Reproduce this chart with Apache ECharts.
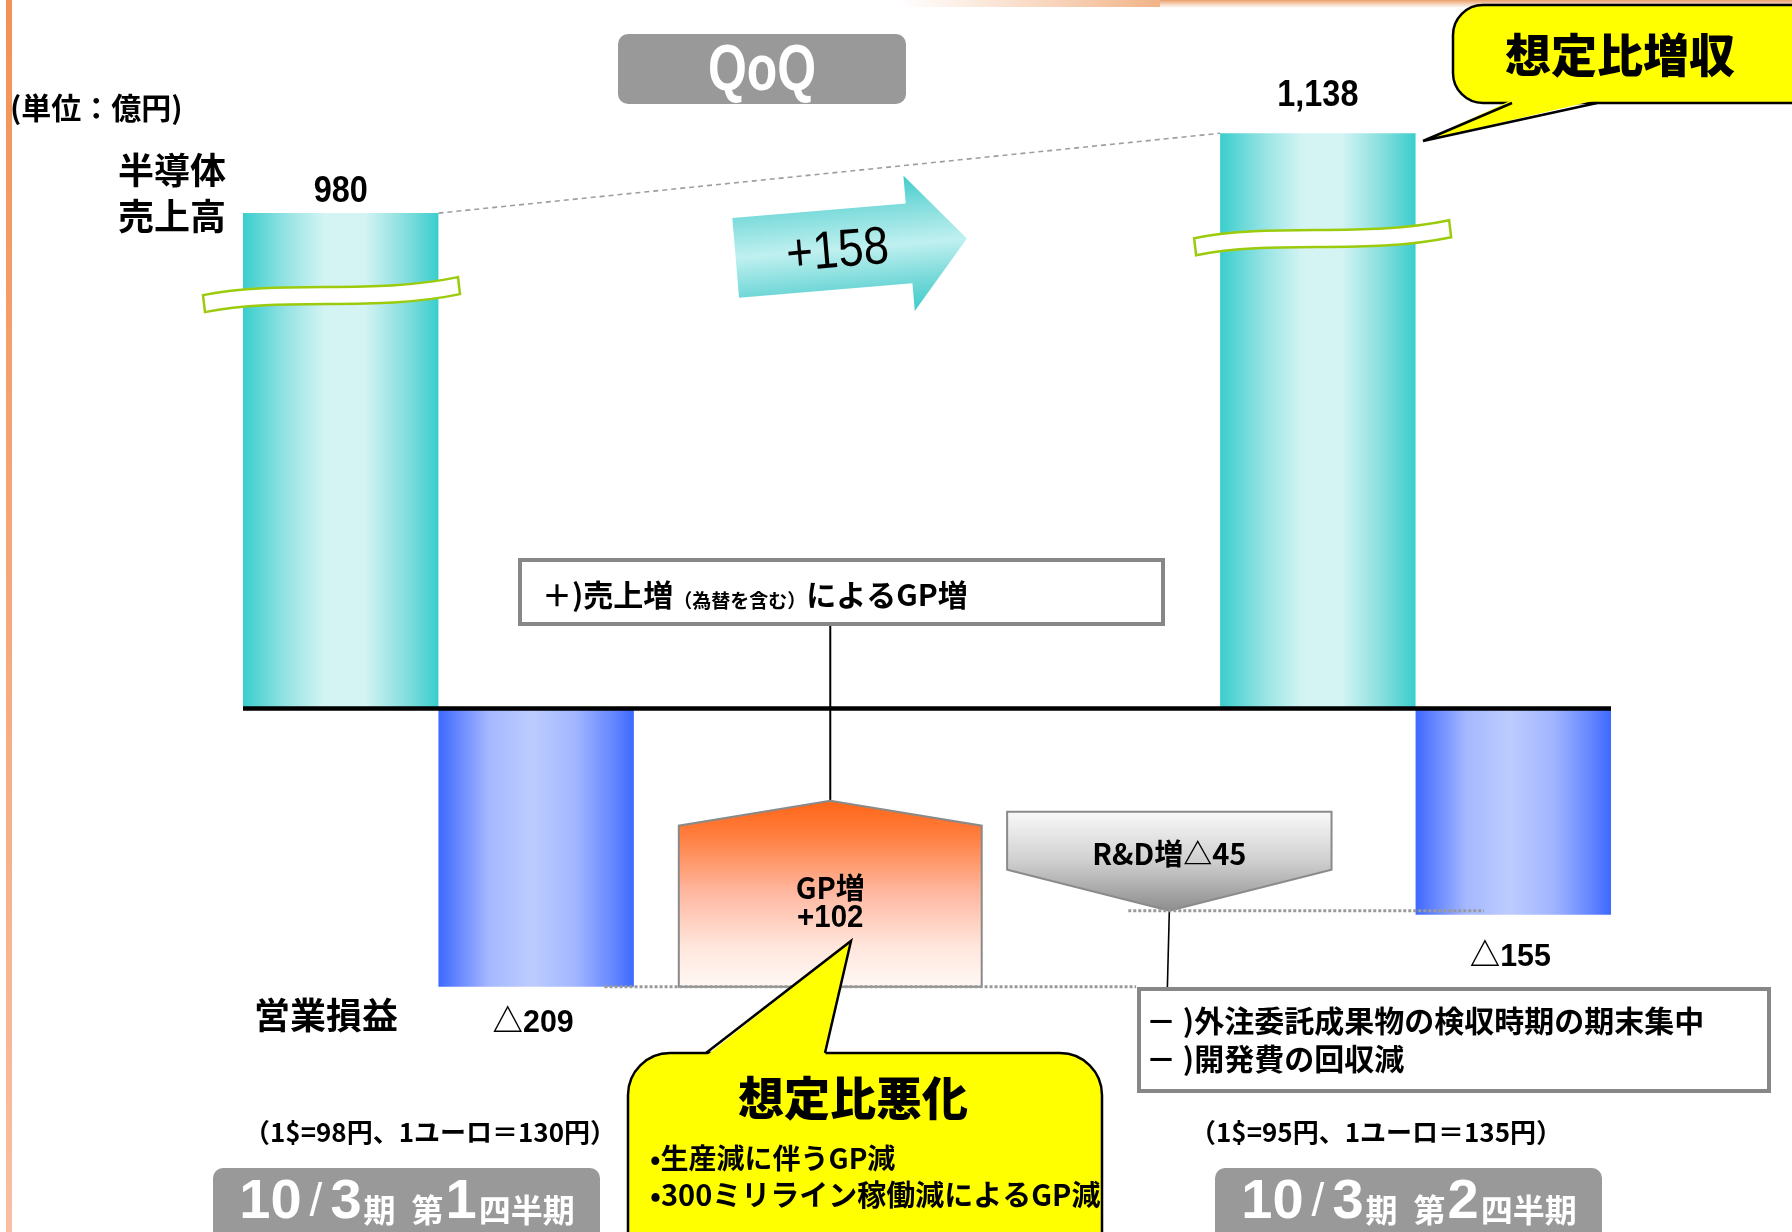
<!DOCTYPE html>
<html lang="ja">
<head>
<meta charset="utf-8">
<title>半導体 QoQ</title>
<script src="https://cdn.jsdelivr.net/npm/echarts@6.0.0/dist/echarts.min.js"></script>
<style>
html, body { margin: 0; padding: 0; background: #ffffff; }
#chart { width: 1792px; height: 1232px; }
</style>
</head>
<body>
<div id="chart"></div>
<script>
// ---------------- data (億円) ----------------
const periods = ['10/3期 第1四半期', '10/3期 第2四半期'];
const fxNotes = ['（1$=98円、1ユーロ＝130円）', '（1$=95円、1ユーロ＝135円）'];
const salesValues = [980, 1138];        // 半導体売上高
const operatingValues = [-209, -155];   // 営業損益
const gpChange = 102;                   // GP増
const rdChange = -45;                   // R&D増
const salesNote = '＋)売上増';
const salesNoteSub = '（為替を含む）';
const salesNoteTail = 'によるGP増';
const rdNotes = ['－ )外注委託成果物の検収時期の期末集中', '－ )開発費の回収減'];
const upCallout = '想定比増収';
const downCallout = '想定比悪化';
const downBullets = ['•生産減に伴うGP減', '•300ミリライン稼働減によるGP減'];

// ---------------- layout & style ----------------
const JP = "'Noto Sans CJK JP', 'Noto Sans CJK SC', sans-serif";
const NUM = "'Liberation Sans', 'Noto Sans CJK JP', sans-serif";
const G = echarts.graphic;

// horizontal slots on a 0..7 value axis
const slot = {
  sales: [0, 5],
  operating: [1, 6],
  gp: [2.23, 3.78],
  rd: [3.91, 5.57],
  lossGuide: [1.85, 4.57],
  rdGuide: [4.53, 6.35],
  arrowAt: 3
};
const BREAK = { dx: [-40, -26], dy: [64, 87] };
const LABEL = { sales: [21, 37], loss: [36, 42] };
const SHAPE = { gpBody: 161, gpRoof: 25, rdHead: 41, rdTotal: 99 };
const ARROW = { dx: 22, dy: 75, rotation: 0.084 };
const BOX1 = { x: 520, y: 560, w: 643, h: 64 };
const BOX2 = { x: 1139, y: 989, w: 630, h: 102 };

const salesFill = new G.LinearGradient(0, 0, 1, 0, [
  { offset: 0, color: '#3ACDCD' }, { offset: 0.22, color: '#95E3E3' },
  { offset: 0.42, color: '#D4F4F4' }, { offset: 0.62, color: '#D4F4F4' },
  { offset: 0.82, color: '#8ADFDF' }, { offset: 1, color: '#3ACDCD' }
]);
const lossFill = new G.LinearGradient(0, 0, 1, 0, [
  { offset: 0, color: '#3E68FF' }, { offset: 0.26, color: '#A6B8FF' },
  { offset: 0.48, color: '#BDCCFF' }, { offset: 0.7, color: '#A2B6FF' },
  { offset: 0.89, color: '#6688FF' }, { offset: 1, color: '#3E68FF' }
]);
const gpFill = new G.LinearGradient(0, 0, 0, 1, [
  { offset: 0, color: '#FF6516' }, { offset: 0.18, color: '#FF7C3C' },
  { offset: 0.5, color: '#FFB9A2' }, { offset: 0.78, color: '#FFE6DC' },
  { offset: 1, color: '#FFF8F4' }
]);
const rdFill = new G.LinearGradient(0, 0, 0, 1, [
  { offset: 0, color: '#FAFAFA' }, { offset: 0.5, color: '#CFCFCF' },
  { offset: 1, color: '#8C8C8C' }
]);
const arrowFill = new G.LinearGradient(0, 0, 0, 1, [
  { offset: 0, color: '#3FCBCB' }, { offset: 0.22, color: '#80DCDC' },
  { offset: 0.5, color: '#C0F0F0' }, { offset: 0.78, color: '#74D8D8' },
  { offset: 1, color: '#3FCBCB' }
]);

const fmtSales = v => v.toLocaleString('en-US');
const fmtLoss = v => (v < 0 ? '△' : '') + Math.abs(v);

// wavy white ribbon marking the broken axis on a sales bar
function breakPath(x0, y0) {
  return `M${x0},${y0 + 18} C${x0 + 80},${y0 + 2} ${x0 + 170},${y0 + 18} ${x0 + 255},${y0} ` +
         `L${x0 + 257},${y0 + 17} C${x0 + 172},${y0 + 35} ${x0 + 82},${y0 + 19} ${x0 + 2},${y0 + 35} Z`;
}

function renderSales(params, api) {
  const i = params.dataIndex;
  const x = api.value(0), v = api.value(1);
  const p0 = api.coord([x, 0]), p1 = api.coord([x + 1, v]);
  const L = p0[0], R = p1[0], T = p1[1], B = p0[1];
  return {
    type: 'group',
    children: [
      { type: 'rect', shape: { x: L, y: T, width: R - L, height: B - T }, style: { fill: salesFill } },
      { type: 'path', shape: { pathData: breakPath(L + BREAK.dx[i], T + BREAK.dy[i]) },
        style: { fill: '#ffffff', stroke: '#9BCB0C', lineWidth: 2.5 } },
      { type: 'text', x: (L + R) / 2, y: T - LABEL.sales[i], scaleX: 0.9,
        style: { text: fmtSales(v), font: 'bold 36px ' + NUM, fill: '#000', align: 'center', verticalAlign: 'middle' } }
    ]
  };
}

function renderLoss(params, api) {
  const i = params.dataIndex;
  const x = api.value(0), v = api.value(1);
  const p0 = api.coord([x, 0]), p1 = api.coord([x + 1, v]);
  const L = p0[0], R = p1[0], T = p0[1], B = p1[1];
  return {
    type: 'group',
    children: [
      { type: 'rect', shape: { x: L, y: T, width: R - L, height: B - T }, style: { fill: lossFill } },
      { type: 'text', x: (L + R) / 2 - 3, y: B + LABEL.loss[i], scaleX: 0.95,
        style: { text: fmtLoss(v), font: 'bold 32px ' + NUM, fill: '#000', align: 'center', verticalAlign: 'middle' } }
    ]
  };
}

function renderGp(params, api) {
  const base = api.value(1), change = api.value(2);
  const yBase = api.coord([0, base])[1];
  const xL = api.coord([slot.gp[0], 0])[0], xR = api.coord([slot.gp[1], 0])[0];
  const xM = (xL + xR) / 2;
  const yS = yBase - SHAPE.gpBody, yP = yS - SHAPE.gpRoof;
  return {
    type: 'group',
    children: [
      { type: 'line', shape: { x1: xM, y1: BOX1.y + BOX1.h, x2: xM, y2: yP }, style: { stroke: '#000', lineWidth: 2 } },
      { type: 'polygon', shape: { points: [[xL, yBase], [xL, yS], [xM, yP], [xR, yS], [xR, yBase]] },
        style: { fill: gpFill, stroke: '#8A8A8A', lineWidth: 2 } },
      { type: 'text', x: xM, y: yBase - 99,
        style: { text: 'GP増', font: 'bold 29px ' + JP, fill: '#000', align: 'center', verticalAlign: 'middle' } },
      { type: 'text', x: xM, y: yBase - 68, scaleX: 0.95,
        style: { text: '+' + change, font: 'bold 31px ' + NUM, fill: '#000', align: 'center', verticalAlign: 'middle' } }
    ]
  };
}

function renderRd(params, api) {
  const start = api.value(1), change = api.value(2);
  const yTip = api.coord([0, start + change])[1];
  const xL = api.coord([slot.rd[0], 0])[0], xR = api.coord([slot.rd[1], 0])[0];
  const xM = (xL + xR) / 2;
  const yS = yTip - SHAPE.rdHead, yT = yTip - SHAPE.rdTotal;
  return {
    type: 'group',
    children: [
      { type: 'polygon', shape: { points: [[xL, yT], [xR, yT], [xR, yS], [xM, yTip], [xL, yS]] },
        style: { fill: rdFill, stroke: '#8A8A8A', lineWidth: 2 } },
      { type: 'text', x: xM, y: yT + 42,
        style: { text: 'R&D増' + fmtLoss(change), font: 'bold 29px ' + JP, fill: '#000', align: 'center', verticalAlign: 'middle' } },
      { type: 'line', shape: { x1: xM, y1: yTip, x2: xM - 2, y2: BOX2.y }, style: { stroke: '#000', lineWidth: 1.6 } }
    ]
  };
}

// dotted level guides and the zero line
function renderGuides(params, api) {
  const lossLevel = operatingValues[0];
  const endLevel = operatingValues[0] + gpChange + rdChange;
  const a0 = api.coord([slot.lossGuide[0], lossLevel]), a1 = api.coord([slot.lossGuide[1], lossLevel]);
  const b0 = api.coord([slot.rdGuide[0], endLevel]), b1 = api.coord([slot.rdGuide[1], endLevel]);
  const z0 = api.coord([0, 0]), z1 = api.coord([7, 0]);
  const dotted = { stroke: '#9A9A9A', lineWidth: 3, lineDash: [3, 2] };
  return {
    type: 'group',
    children: [
      { type: 'line', shape: { x1: a0[0], y1: a0[1], x2: a1[0], y2: a1[1] }, style: dotted },
      { type: 'line', shape: { x1: b0[0], y1: b0[1], x2: b1[0], y2: b1[1] }, style: dotted },
      { type: 'line', shape: { x1: z0[0], y1: z0[1], x2: z1[0], y2: z1[1] }, style: { stroke: '#000', lineWidth: 4.5 } }
    ]
  };
}

// dashed link between the two sales tops and the change arrow
function renderSalesChange(params, api) {
  const change = api.value(1);
  const a = api.coord([slot.sales[0] + 1, salesValues[0]]);
  const b = api.coord([slot.sales[1], salesValues[1]]);
  const mid = api.coord([slot.arrowAt, (salesValues[0] + salesValues[1]) / 2]);
  return {
    type: 'group',
    children: [
      { type: 'line', shape: { x1: a[0], y1: a[1], x2: b[0], y2: b[1] },
        style: { stroke: '#9E9E9E', lineWidth: 1.6, lineDash: [5, 4] } },
      { type: 'group', x: mid[0] + ARROW.dx, y: mid[1] + ARROW.dy, rotation: ARROW.rotation,
        children: [
          { type: 'polygon',
            shape: { points: [[-116, -40], [58, -40], [58, -68], [116, 0], [58, 68], [58, 40], [-116, 40]] },
            style: { fill: arrowFill } },
          { type: 'text', x: -14, y: 3, scaleX: 0.86,
            style: { text: (change > 0 ? '+' : '') + change, font: '53px ' + NUM, fill: '#000', align: 'center', verticalAlign: 'middle' } }
        ] }
    ]
  };
}

// callout bubbles (body + tail)
function callout(body, tail, r) {
  const fillTail = tail.map((p, k) => (k === 1 ? p : [p[0], p[1] + (tail[1][1] < p[1] ? 3 : -3)]));
  return [
    { type: 'rect', z: 30, shape: { x: body.x, y: body.y, width: body.w, height: body.h, r: r },
      style: { fill: '#FFFF00', stroke: '#000', lineWidth: 2.5 } },
    { type: 'polygon', z: 31, shape: { points: fillTail }, style: { fill: '#FFFF00' } },
    { type: 'polyline', z: 31, shape: { points: tail }, style: { stroke: '#000', lineWidth: 2.5, fill: null } }
  ];
}

// period tag: large digits with smaller kanji, laid out piece by piece
const measureCtx = document.createElement('canvas').getContext('2d');
function textWidth(text, font) { measureCtx.font = font; return measureCtx.measureText(text).width; }
const PERIOD_FONT = {
  b: { font: 'bold 56px ' + NUM, dy: 0 },
  sl: { font: 'normal 46px ' + NUM, dy: 0 },
  s: { font: 'bold 32px ' + JP, dy: 7 }
};
function periodTag(label, cx, cy) {
  const m = label.match(/^(\d+)\/(\d+)(期)\s*(第)(\d+)(四半期)$/);
  const parts = [[m[1], 'b', 0], ['/', 'sl', 8], [m[2], 'b', 8], [m[3], 's', 2], [m[4], 's', 16], [m[5], 'b', 2], [m[6], 's', 2]];
  let total = 0;
  const widths = parts.map(p => { const w = textWidth(p[0], PERIOD_FONT[p[1]].font); total += w + p[2]; return w; });
  let x = cx - total / 2;
  return parts.map((p, k) => {
    x += p[2];
    const el = { type: 'text', z: 21, x: x, y: cy + PERIOD_FONT[p[1]].dy,
      style: { text: p[0], font: PERIOD_FONT[p[1]].font, fill: '#fff', align: 'left', verticalAlign: 'middle', textAlign: 'left', textVerticalAlign: 'middle' } };
    x += widths[k];
    return el;
  });
}

const txt = (x, y, text, font, extra) => ({
  type: 'text', z: 20, x: x, y: y,
  style: Object.assign({ text: text, font: font, fill: '#000', align: 'left', verticalAlign: 'middle',
    textAlign: 'left', textVerticalAlign: 'middle' }, extra || {})
});

const graphics = [
  // accent stripes
  { type: 'rect', z: 0, shape: { x: 6, y: 0, width: 6, height: 1232 },
    style: { fill: new G.LinearGradient(0, 0, 0, 1, [{ offset: 0, color: '#F39257' }, { offset: 1, color: '#F8BFA2' }]) } },
  { type: 'rect', z: 0, shape: { x: 900, y: 0, width: 260, height: 7 },
    style: { fill: new G.LinearGradient(0, 0, 1, 0, [{ offset: 0, color: 'rgba(240,170,120,0)' }, { offset: 1, color: 'rgba(238,160,105,0.8)' }]) } },
  { type: 'rect', z: 0, shape: { x: 1160, y: 0, width: 632, height: 8 },
    style: { fill: new G.LinearGradient(0, 0, 0, 1, [{ offset: 0, color: 'rgba(232,148,92,0.9)' }, { offset: 1, color: 'rgba(236,160,105,0)' }]) } },
  // headings
  txt(10, 108, '(単位：億円)', 'bold 30px ' + JP),
  txt(172, 170, '半導体', 'bold 36px ' + JP, { align: 'center', textAlign: 'center' }),
  txt(172, 216, '売上高', 'bold 36px ' + JP, { align: 'center', textAlign: 'center' }),
  txt(326, 1015, '営業損益', 'bold 36px ' + JP, { align: 'center', textAlign: 'center' }),
  // QoQ tag
  { type: 'rect', z: 20, shape: { x: 618, y: 34, width: 288, height: 70, r: 10 }, style: { fill: '#999999' } },
  { type: 'text', z: 21, x: 762, y: 72, scaleX: 0.78,
    style: { text: 'QoQ', font: 'bold 64px ' + NUM, fill: '#fff', align: 'center', verticalAlign: 'middle', textAlign: 'center', textVerticalAlign: 'middle' } },
  // note boxes
  { type: 'rect', z: 20, shape: { x: BOX1.x, y: BOX1.y, width: BOX1.w, height: BOX1.h },
    style: { fill: '#fff', stroke: '#878787', lineWidth: 4 } },
  { type: 'text', z: 21, x: 542, y: 593,
    style: { text: `{m|${salesNote}}{s|${salesNoteSub}}{m|${salesNoteTail}}`, verticalAlign: 'middle', textVerticalAlign: 'middle',
      rich: { m: { font: 'bold 30px ' + JP, fill: '#000', verticalAlign: 'bottom', lineHeight: 34 },
              s: { font: 'bold 19px ' + JP, fill: '#000', verticalAlign: 'bottom', lineHeight: 26 } } } },
  { type: 'rect', z: 20, shape: { x: BOX2.x, y: BOX2.y, width: BOX2.w, height: BOX2.h },
    style: { fill: '#fff', stroke: '#878787', lineWidth: 4 } },
  txt(1146, 1021, rdNotes[0], 'bold 30px ' + JP, { z: 21 }),
  txt(1146, 1059, rdNotes[1], 'bold 30px ' + JP, { z: 21 }),
  // exchange rates
  txt(430, 1132, fxNotes[0], 'bold 26px ' + JP, { align: 'center', textAlign: 'center' }),
  txt(1376, 1132, fxNotes[1], 'bold 26px ' + JP, { align: 'center', textAlign: 'center' }),
  // period tags
  { type: 'rect', z: 20, shape: { x: 213, y: 1168, width: 387, height: 80, r: 10 }, style: { fill: '#999999' } },
  { type: 'rect', z: 20, shape: { x: 1215, y: 1168, width: 387, height: 80, r: 10 }, style: { fill: '#999999' } },
  ...periodTag(periods[0], 407, 1203),
  ...periodTag(periods[1], 1409, 1203),
  // callouts
  ...callout({ x: 1453, y: 5, w: 380, h: 98 }, [[1512, 103], [1423, 141], [1597, 103]], 30),
  { type: 'text', z: 32, x: 1620, y: 55,
    style: { text: upCallout, font: '900 46px ' + JP, fill: '#000', align: 'center', verticalAlign: 'middle', textAlign: 'center', textVerticalAlign: 'middle' } },
  ...callout({ x: 628, y: 1053, w: 474, h: 230 }, [[706, 1053], [851, 941], [825, 1053]], 42),
  { type: 'text', z: 32, x: 853, y: 1098,
    style: { text: downCallout, font: '900 46px ' + JP, fill: '#000', align: 'center', verticalAlign: 'middle', textAlign: 'center', textVerticalAlign: 'middle' } },
  { type: 'text', z: 32, x: 650, y: 1158,
    style: { text: downBullets[0], font: 'bold 28px ' + JP, fill: '#000', align: 'left', verticalAlign: 'middle', textAlign: 'left', textVerticalAlign: 'middle' } },
  { type: 'text', z: 32, x: 650, y: 1195,
    style: { text: downBullets[1], font: 'bold 29px ' + JP, fill: '#000', align: 'left', verticalAlign: 'middle', textAlign: 'left', textVerticalAlign: 'middle' } }
];

const chart = echarts.init(document.getElementById('chart'), null, { renderer: 'canvas' });
chart.setOption({
  animation: false,
  backgroundColor: '#ffffff',
  grid: [
    { left: 243, width: 1368, top: 101.9, height: 606.6, outerBoundsMode: 'none' },
    { left: 243, width: 1368, top: 708.5, height: 399.3, outerBoundsMode: 'none' }
  ],
  xAxis: [
    { gridIndex: 0, type: 'value', min: 0, max: 7, show: false },
    { gridIndex: 1, type: 'value', min: 0, max: 7, show: false }
  ],
  yAxis: [
    { gridIndex: 0, type: 'value', min: 0, max: 1200, show: false },
    { gridIndex: 1, type: 'value', min: -300, max: 0, show: false }
  ],
  series: [
    { name: '半導体売上高', type: 'custom', xAxisIndex: 0, yAxisIndex: 0, z: 3, silent: true,
      data: salesValues.map((v, i) => [slot.sales[i], v]), renderItem: renderSales },
    { name: '営業損益', type: 'custom', xAxisIndex: 1, yAxisIndex: 1, z: 3, silent: true,
      data: operatingValues.map((v, i) => [slot.operating[i], v]), renderItem: renderLoss },
    { name: 'GP増', type: 'custom', xAxisIndex: 1, yAxisIndex: 1, z: 3, silent: true,
      data: [[slot.gp[0], operatingValues[0], gpChange]], renderItem: renderGp },
    { name: 'R&D増', type: 'custom', xAxisIndex: 1, yAxisIndex: 1, z: 3, silent: true,
      data: [[slot.rd[0], operatingValues[0] + gpChange, rdChange]], renderItem: renderRd },
    { name: 'guides', type: 'custom', xAxisIndex: 1, yAxisIndex: 1, z: 4, silent: true,
      data: [[0, 0]], renderItem: renderGuides },
    { name: '売上増減', type: 'custom', xAxisIndex: 0, yAxisIndex: 0, z: 4, silent: true,
      data: [[slot.arrowAt, salesValues[1] - salesValues[0]]], renderItem: renderSalesChange }
  ],
  graphic: graphics
});
</script>
</body>
</html>
